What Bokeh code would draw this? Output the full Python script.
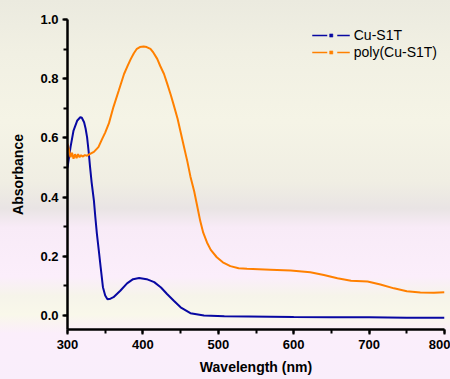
from bokeh.plotting import figure
from bokeh.models import (Range1d, SingleIntervalTicker, NumeralTickFormatter,
                          Legend, LegendItem)
from bokeh.embed import file_html
from bokeh.resources import INLINE

# UV-Vis absorbance spectra
wl_monomer = [300, 304, 308, 313, 317, 319, 322, 324, 326, 328, 330, 332, 335,
              337, 339, 341.5, 344, 347, 350, 353, 357, 361, 370, 379, 387, 395,
              405, 415, 424, 432, 441, 450, 463, 481, 508, 540, 569, 600, 650,
              700, 750, 800]
abs_monomer = [0.50, 0.569, 0.625, 0.659, 0.670, 0.668, 0.653, 0.632, 0.602,
               0.555, 0.50, 0.45, 0.389, 0.33, 0.276, 0.22, 0.163, 0.096, 0.068,
               0.055, 0.057, 0.062, 0.084, 0.109, 0.123, 0.127, 0.123, 0.113,
               0.095, 0.073, 0.050, 0.028, 0.008, 0.000, -0.002, -0.003, -0.004,
               -0.005, -0.006, -0.006, -0.007, -0.007]

wl_polymer = [300, 302, 304, 306, 308, 310, 312, 314, 316, 318, 320, 323, 326,
              330, 335, 341, 346, 350, 355, 361, 368, 375, 380, 384, 388, 392,
              396, 401, 405, 410, 414, 419, 423, 428, 432, 437, 441, 446, 450,
              454, 459, 463, 468, 472, 476, 480, 485, 490, 498, 506, 516, 527,
              538, 569, 596, 622, 640, 658, 676, 698, 715, 733, 750, 768, 786,
              800]
abs_polymer = [0.58, 0.56, 0.535, 0.55, 0.53, 0.545, 0.532, 0.545, 0.535,
               0.542, 0.537, 0.542, 0.540, 0.546, 0.553, 0.569, 0.597, 0.618,
               0.650, 0.705, 0.760, 0.816, 0.845, 0.867, 0.886, 0.901, 0.907,
               0.909, 0.907, 0.901, 0.888, 0.867, 0.843, 0.816, 0.785, 0.745,
               0.71, 0.665, 0.62, 0.575, 0.52, 0.47, 0.42, 0.37, 0.32, 0.28,
               0.247, 0.222, 0.197, 0.18, 0.167, 0.160, 0.158, 0.155, 0.152,
               0.146, 0.137, 0.126, 0.118, 0.115, 0.105, 0.092, 0.082, 0.078,
               0.077, 0.079]

series_names = ["Cu-S1T", "poly(Cu-S1T)"]
series_colors = ["#0808a2", "#ff8000"]

FONT = "Liberation Sans"

p = figure(width=450, height=379, output_backend="svg", toolbar_location=None,
           x_range=Range1d(300, 800), y_range=Range1d(-0.047, 1.0),
           min_border_left=67, min_border_right=6, min_border_top=19,
           min_border_bottom=50)

p.border_fill_color = None
p.background_fill_color = None
p.outline_line_color = None
p.styles = {"background": "linear-gradient(to bottom, #ebeadf 0%, #f1f0e3 14%, "
            "#f5f4e6 32%, #f0eee3 48%, #e9e4e4 55%, #f8ebf7 60%, #fbeefb 73%, "
            "#f6f4ea 78%, #f9f8ea 83%, #fbeefb 88%, #f9eefb 100%)"}
p.grid.visible = False

p.line(wl_monomer, abs_monomer, line_color=series_colors[0], line_width=2)
p.line(wl_polymer, abs_polymer, line_color=series_colors[1], line_width=2)

# legend swatches: broken line with a small square marker in the middle
nan = float("nan")
items = []
for name, col in zip(series_names, series_colors):
    ln = p.line([nan], [nan], line_color=col, line_width=1.5,
                line_dash="15 10")
    mk = p.scatter([nan], [nan], marker="square", size=3, fill_color=col,
                   line_color=col, line_width=0.5)
    items.append(LegendItem(label=name, renderers=[ln, mk]))

legend = Legend(items=items, location="top_right", margin=7, padding=0,
                spacing=0, glyph_width=38, glyph_height=8, label_height=17,
                label_standoff=4, label_text_font=FONT,
                label_text_font_size="14px", label_text_color="#000000",
                background_fill_alpha=0, border_line_alpha=0)
p.add_layout(legend)

p.xaxis.ticker = SingleIntervalTicker(interval=100, num_minor_ticks=2)
p.yaxis.ticker = SingleIntervalTicker(interval=0.2, num_minor_ticks=2)
p.yaxis.formatter = NumeralTickFormatter(format="0.0")

p.xaxis.axis_label = "Wavelength (nm)"
p.yaxis.axis_label = "Absorbance"

for ax in (p.xaxis[0], p.yaxis[0]):
    ax.axis_line_width = 2.5
    ax.axis_line_color = "black"
    ax.major_tick_line_width = 2
    ax.minor_tick_line_width = 2
    ax.major_tick_in = 0
    ax.major_tick_out = 5
    ax.minor_tick_in = 0
    ax.minor_tick_out = 4
    ax.major_label_text_font = FONT
    ax.major_label_text_font_style = "bold"
    ax.major_label_text_font_size = "13px"
    ax.major_label_text_color = "black"
    ax.axis_label_text_font = FONT
    ax.axis_label_text_font_style = "bold"
    ax.axis_label_text_font_size = "14px"
    ax.axis_label_text_color = "black"

p.xaxis.major_label_standoff = 5
p.yaxis.major_label_standoff = 4
p.xaxis.axis_label_standoff = 7
p.yaxis.axis_label_standoff = 11

open("out.html", "w").write(file_html(p, INLINE))
